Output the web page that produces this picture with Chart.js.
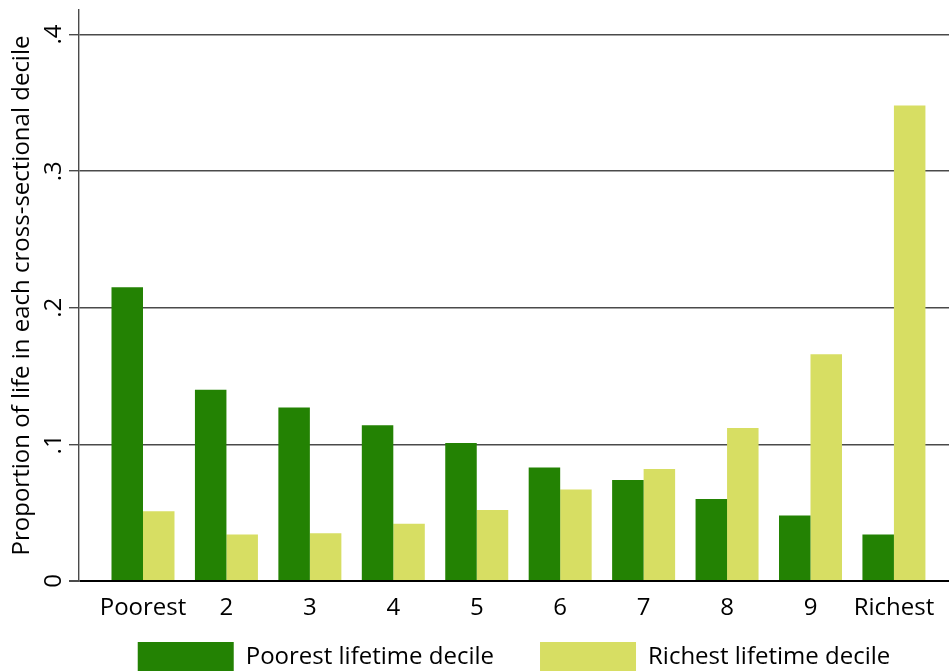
<!DOCTYPE html>
<html>
<head>
<meta charset="utf-8">
<script src="https://cdn.jsdelivr.net/npm/chart.js@4"></script>
<style>
  html, body { margin: 0; padding: 0; background: #fff; }
  #wrap { width: 949px; height: 671px; }
</style>
</head>
<body>
<div id="wrap"><canvas id="barChart"></canvas></div>
<script>
// deciles of cross-sectional income
var deciles = ['Poorest', '2', '3', '4', '5', '6', '7', '8', '9', 'Richest'];
// share of life spent in each decile, by lifetime decile
var poorestLifetime = [0.215, 0.140, 0.127, 0.114, 0.101, 0.083, 0.074, 0.060, 0.048, 0.034];
var richestLifetime = [0.051, 0.034, 0.035, 0.042, 0.052, 0.067, 0.082, 0.112, 0.166, 0.348];
var yTicks = [0, 0.1, 0.2, 0.3, 0.4];
var seriesNames = ['Poorest lifetime decile', 'Richest lifetime decile'];

var FONT = "'Open Sans', 'Noto Sans', sans-serif";

function toPoints(values){
    return values.map(function(v, i){ return { x: i + 1, y: v }; });
}

// legend draws a padding below its box top, pull it back up
var legendShift = {
    id: 'legendShift',
    afterLayout: function(chart){
        chart.legend.top -= chart.options.plugins.legend.labels.padding;
    }
};

var ctx = document.getElementById('barChart');
var barChart = new Chart(ctx, {
    type: 'bar',
    data: {
        datasets: [
            { label: seriesNames[0], data: toPoints(poorestLifetime), backgroundColor: '#238203', borderWidth: 0 },
            { label: seriesNames[1], data: toPoints(richestLifetime), backgroundColor: '#d7de63', borderWidth: 0 }
        ]
    },
    options: {
        responsive: true,
        maintainAspectRatio: false,
        animation: false,
        layout: { padding: { top: 10, right: 0, left: 0, bottom: 0 } },
        datasets: { bar: { categoryPercentage: 0.755, barPercentage: 1.0 } },
        scales: {
            x: {
                type: 'linear',
                offset: false,
                min: 0.233,
                max: 10.66,
                afterBuildTicks: function(scale){
                    scale.ticks = deciles.map(function(d, i){ return { value: i + 1 }; });
                },
                afterFit: function(scale){
                    scale.height = 61;
                    scale.paddingLeft = 0;
                    scale.paddingRight = 0;
                },
                grid: { display: false, drawTicks: false, offset: false },
                border: { display: false },
                ticks: {
                    padding: 13,
                    color: '#000',
                    font: { family: FONT, size: 24 },
                    maxRotation: 0,
                    autoSkip: false,
                    callback: function(value){ return deciles[Math.round(value) - 1]; }
                }
            },
            y: {
                min: 0,
                max: 0.418,
                afterBuildTicks: function(scale){
                    scale.ticks = yTicks.map(function(v){ return { value: v }; });
                },
                afterFit: function(scale){
                    scale.width = 79;
                    scale.paddingTop = 0;
                    scale.paddingBottom = 0;
                },
                grid: {
                    color: function(c){ return c.tick && c.tick.value === 0 ? '#000' : '#4a4a4a'; },
                    lineWidth: function(c){ return c.tick && c.tick.value === 0 ? 2 : 1.4; },
                    tickColor: '#4a4a4a',
                    tickLength: 10
                },
                border: { display: true, color: '#4a4a4a', width: 1.4 },
                ticks: {
                    minRotation: 90,
                    maxRotation: 90,
                    crossAlign: 'center',
                    padding: 5,
                    color: '#000',
                    font: { family: FONT, size: 24 },
                    callback: function(value){
                        return value === 0 ? '0' : String(value).replace(/^0/, '');
                    }
                },
                title: {
                    display: true,
                    text: 'Proportion of life in each cross-sectional decile',
                    color: '#000',
                    font: { family: FONT, size: 24, weight: 'normal' },
                    padding: { top: 8, bottom: 0 }
                }
            }
        },
        plugins: {
            legend: {
                position: 'bottom',
                fullSize: false,
                maxHeight: 29,
                labels: {
                    boxWidth: 96,
                    boxHeight: 30,
                    padding: 46,
                    color: '#000',
                    font: { family: FONT, size: 24 }
                }
            },
            tooltip: { enabled: false }
        }
    },
    plugins: [legendShift]
});
</script>
</body>
</html>
